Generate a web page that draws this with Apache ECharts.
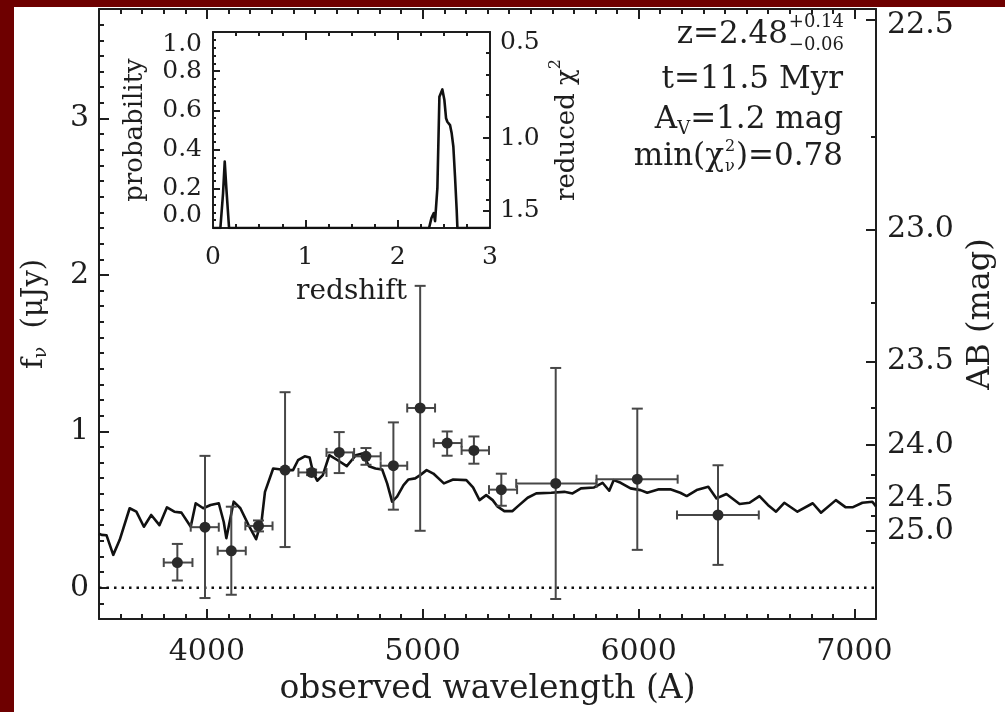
<!DOCTYPE html>
<html>
<head>
<meta charset="utf-8">
<script src="https://cdn.jsdelivr.net/npm/echarts@6/dist/echarts.min.js"></script>
<style>
  html, body { margin: 0; padding: 0; width: 1005px; height: 712px; overflow: hidden; background: #6e0000; }
  #paper { position: absolute; left: 14px; top: 7px; right: 0; bottom: 0; background: #ffffff; }
  #chart { position: absolute; left: 0; top: 0; width: 1005px; height: 712px; }
</style>
</head>
<body>
<div id="paper"></div>
<div id="chart"></div>
<script>
// ---- Broad-band photometry (wavelength in A, flux in microJy) ----
const obsWave   = [3863, 3991, 4113, 4239, 4362, 4485, 4613, 4737, 4864, 4988, 5113, 5237, 5364, 5616, 5994, 6368];
const obsFlux   = [0.161, 0.387, 0.236, 0.395, 0.752, 0.737, 0.865, 0.840, 0.780, 1.149, 0.925, 0.878, 0.627, 0.667, 0.694, 0.465];
const obsWaveLo = [3800, 3925, 4050, 4178, 4362, 4424, 4554, 4677, 4805, 4928, 5051, 5180, 5307, 5433, 5805, 6178];
const obsWaveHi = [3933, 4055, 4180, 4304, 4362, 4554, 4682, 4805, 4928, 5057, 5180, 5307, 5437, 5805, 6181, 6557];
const obsFluxLo = [0.046, -0.066, -0.045, 0.360, 0.260, 0.720, 0.733, 0.786, 0.499, 0.364, 0.844, 0.793, 0.524, -0.072, 0.242, 0.146];
const obsFluxHi = [0.280, 0.843, 0.518, 0.430, 1.250, 0.755, 0.995, 0.893, 1.057, 1.930, 0.999, 0.967, 0.729, 1.405, 1.145, 0.783];

// ---- Best-fit model spectrum ----
const modelWave = [3500, 3512, 3535, 3566, 3596, 3642, 3673, 3708, 3742, 3780, 3815, 3849, 3882, 3925, 3948, 3983,
  4017, 4055, 4078, 4090, 4124, 4155, 4193, 4228, 4254, 4269, 4307, 4345, 4376, 4399, 4422, 4453, 4476, 4491,
  4511, 4537, 4567, 4606, 4648, 4690, 4720, 4751, 4781, 4812, 4835, 4858, 4881, 4911, 4934, 4965, 4988, 5018,
  5049, 5098, 5141, 5202, 5233, 5263, 5294, 5324, 5347, 5378, 5416, 5440, 5486, 5526, 5595, 5656, 5694, 5733,
  5794, 5833, 5864, 5885, 5917, 5963, 6009, 6040, 6094, 6147, 6193, 6223, 6269, 6323, 6361, 6407, 6468, 6514,
  6560, 6599, 6637, 6675, 6736, 6807, 6845, 6914, 6960, 6991, 7037, 7083, 7100];
const modelFlux = [0.345, 0.338, 0.335, 0.210, 0.306, 0.508, 0.486, 0.390, 0.465, 0.400, 0.514, 0.486, 0.480, 0.390, 0.540, 0.508,
  0.529, 0.540, 0.420, 0.317, 0.550, 0.508, 0.400, 0.310, 0.433, 0.613, 0.762, 0.756, 0.752, 0.752, 0.815, 0.840, 0.832, 0.741,
  0.684, 0.720, 0.847, 0.815, 0.777, 0.847, 0.858, 0.777, 0.762, 0.756, 0.667, 0.550, 0.582, 0.656, 0.692, 0.699, 0.720, 0.752,
  0.730, 0.667, 0.692, 0.688, 0.641, 0.560, 0.592, 0.560, 0.518, 0.490, 0.490, 0.520, 0.575, 0.603, 0.607, 0.613, 0.603, 0.635,
  0.641, 0.671, 0.620, 0.688, 0.671, 0.635, 0.624, 0.607, 0.629, 0.629, 0.607, 0.586, 0.624, 0.645, 0.571, 0.599, 0.535, 0.543,
  0.586, 0.529, 0.486, 0.543, 0.486, 0.540, 0.480, 0.560, 0.514, 0.514, 0.543, 0.550, 0.520];

// ---- Photometric-redshift probability distribution ----
const zGrid = [0, 0.080, 0.109, 0.127, 0.145, 0.174, 2.340, 2.366, 2.391, 2.405, 2.430, 2.452, 2.484, 2.506,
  2.524, 2.538, 2.567, 2.585, 2.603, 2.621, 2.639, 2.647, 3.0];
const zProb = [0, 0, 0.178, 0.339, 0.200, 0, 0, 0.051, 0.076, 0.035, 0.203, 0.670, 0.707, 0.653,
  0.560, 0.542, 0.525, 0.483, 0.416, 0.263, 0.093, 0, 0];

// ---- Tick labels ----
const waveTicks = [4000, 5000, 6000, 7000];
const fluxTicks = [0, 1, 2, 3];
const abMajor = [22.5, 23.0, 23.5, 24.0, 24.5, 25.0];
const abMinor = [22.75, 23.25, 23.75, 24.25, 24.75, 25.25];
const zTicks = [0, 1, 2, 3];
const chi2Major = [0.5, 1.0, 1.5];
const chi2MajorProb = [1.0, 0.459, 0.088];
const chi2MinorProb = [0.892, 0.780, 0.678, 0.566, 0.347, 0.246, 0.144];

// AB magnitude <-> flux density in microJy
const abToFlux = m => Math.pow(10, (23.9 - m) / 2.5);
const fluxToAb = f => 23.9 - 2.5 * Math.log10(f);

const FONT = '"DejaVu Serif", "Liberation Serif", serif';
const INK = '#1e1e1e';
const AXLINE = { show: true, onZero: false, lineStyle: { color: INK, width: 2 } };
const NOLINE = { show: false, onZero: false };
const NOLABEL = { show: false };
const NOSPLIT = { show: false };
const tick = (len, extra) => Object.assign({ show: true, inside: true, length: len, lineStyle: { color: INK, width: 2 } }, extra || {});
const label = (size, margin, extra) => Object.assign({ color: INK, fontFamily: FONT, fontSize: size, margin: margin }, extra || {});
const plain = v => String(v);
// edge labels sit slightly inside the frame
const edgeRich = (size, pad) => ({ edge: { fontFamily: FONT, fontSize: size, color: INK, padding: [pad, 0, 0, 0] } });

const chart = echarts.init(document.getElementById('chart'), null, { renderer: 'canvas' });

function renderErrorBar(params, api) {
  const x = api.value(0), y = api.value(1);
  const c = api.coord([x, y]);
  const lo = api.coord([x, api.value(4)]);
  const hi = api.coord([x, api.value(5)]);
  const l = api.coord([api.value(2), y]);
  const r = api.coord([api.value(3), y]);
  const st = { stroke: '#474747', lineWidth: 2 };
  const capW = 5.5, capH = 4.5;
  const children = [];
  if (Math.abs(lo[1] - hi[1]) > 1) {
    children.push({ type: 'line', shape: { x1: c[0], y1: lo[1], x2: c[0], y2: hi[1] }, style: st });
    children.push({ type: 'line', shape: { x1: c[0] - capW, y1: lo[1], x2: c[0] + capW, y2: lo[1] }, style: st });
    children.push({ type: 'line', shape: { x1: c[0] - capW, y1: hi[1], x2: c[0] + capW, y2: hi[1] }, style: st });
  }
  if (r[0] - l[0] > 1) {
    children.push({ type: 'line', shape: { x1: l[0], y1: c[1], x2: r[0], y2: c[1] }, style: st });
    children.push({ type: 'line', shape: { x1: l[0], y1: c[1] - capH, x2: l[0], y2: c[1] + capH }, style: st });
    children.push({ type: 'line', shape: { x1: r[0], y1: c[1] - capH, x2: r[0], y2: c[1] + capH }, style: st });
  }
  children.push({ type: 'circle', shape: { cx: c[0], cy: c[1], r: 5.5 }, style: { fill: '#2a2a2a' } });
  return { type: 'group', children: children };
}

const option = {
  animation: false,
  backgroundColor: 'transparent',
  grid: [
    { left: 99, right: 124, top: 9, bottom: 93, containLabel: false },
    { left: 213, top: 32, width: 277, height: 196, containLabel: false }
  ],
  xAxis: [
    // main, bottom
    { gridIndex: 0, type: 'value', position: 'bottom', min: 3500, max: 7100,
      axisLine: AXLINE, splitLine: NOSPLIT,
      axisTick: tick(10, { customValues: waveTicks }),
      axisLabel: label(30, 18, { customValues: waveTicks, formatter: plain }),
      name: 'observed wavelength (A)', nameLocation: 'middle', nameGap: 54,
      nameTextStyle: { color: INK, fontFamily: FONT, fontSize: 33 } },
    { gridIndex: 0, type: 'value', position: 'bottom', min: 3500, max: 7100, interval: 100,
      axisLine: NOLINE, splitLine: NOSPLIT, axisLabel: NOLABEL, axisTick: tick(5) },
    // main, top
    { gridIndex: 0, type: 'value', position: 'top', min: 3500, max: 7100,
      axisLine: AXLINE, splitLine: NOSPLIT, axisLabel: NOLABEL,
      axisTick: tick(10, { customValues: waveTicks }) },
    { gridIndex: 0, type: 'value', position: 'top', min: 3500, max: 7100, interval: 100,
      axisLine: NOLINE, splitLine: NOSPLIT, axisLabel: NOLABEL, axisTick: tick(5) },
    // inset, bottom
    { gridIndex: 1, type: 'value', position: 'bottom', min: 0, max: 3,
      axisLine: AXLINE, splitLine: NOSPLIT,
      axisTick: tick(8, { customValues: zTicks }),
      axisLabel: label(25, 17, { customValues: zTicks, formatter: plain }),
      name: 'redshift', nameLocation: 'middle', nameGap: 50,
      nameTextStyle: { color: INK, fontFamily: FONT, fontSize: 28 } },
    { gridIndex: 1, type: 'value', position: 'bottom', min: 0, max: 3, interval: 0.25,
      axisLine: NOLINE, splitLine: NOSPLIT, axisLabel: NOLABEL, axisTick: tick(4) },
    // inset, top
    { gridIndex: 1, type: 'value', position: 'top', min: 0, max: 3,
      axisLine: AXLINE, splitLine: NOSPLIT, axisLabel: NOLABEL,
      axisTick: tick(8, { customValues: zTicks }) },
    { gridIndex: 1, type: 'value', position: 'top', min: 0, max: 3, interval: 0.25,
      axisLine: NOLINE, splitLine: NOSPLIT, axisLabel: NOLABEL, axisTick: tick(4) }
  ],
  yAxis: [
    // main, left (flux)
    { gridIndex: 0, type: 'value', position: 'left', min: -0.2, max: 3.7,
      axisLine: AXLINE, splitLine: NOSPLIT,
      axisTick: tick(10, { customValues: fluxTicks }),
      axisLabel: label(30, 10, { customValues: fluxTicks, formatter: plain }),
      name: '{a|f}{b|ν}{a|  (μJy)}', nameLocation: 'middle', nameGap: 48, nameRotate: 90,
      nameTextStyle: { color: INK, fontFamily: FONT, fontSize: 29,
        rich: { a: { fontFamily: FONT, fontSize: 29, color: INK, lineHeight: 34, verticalAlign: 'middle' },
                b: { fontFamily: FONT, fontSize: 19, color: INK, lineHeight: 34, verticalAlign: 'bottom' } } } },
    { gridIndex: 0, type: 'value', position: 'left', min: -0.2, max: 3.7, interval: 0.1,
      axisLine: NOLINE, splitLine: NOSPLIT, axisLabel: NOLABEL, axisTick: tick(5) },
    // main, right (AB magnitude)
    { gridIndex: 0, type: 'value', position: 'right', min: -0.2, max: 3.7,
      axisLine: AXLINE, splitLine: NOSPLIT,
      axisTick: tick(10, { customValues: abMajor.map(abToFlux) }),
      axisLabel: label(30, 11, { customValues: abMajor.map(abToFlux), rich: edgeRich(30, 10),
        formatter: v => {
          const m = fluxToAb(v);
          return Math.abs(m - abMajor[0]) < 1e-6 ? '{edge|' + m.toFixed(1) + '}' : m.toFixed(1);
        } }),
      name: 'AB (mag)', nameLocation: 'middle', nameGap: 89, nameRotate: 90,
      nameTextStyle: { color: INK, fontFamily: FONT, fontSize: 32 } },
    { gridIndex: 0, type: 'value', position: 'right', min: -0.2, max: 3.7,
      axisLine: NOLINE, splitLine: NOSPLIT, axisLabel: NOLABEL,
      axisTick: tick(5, { customValues: abMinor.map(abToFlux) }) },
    // inset, left (probability)
    { gridIndex: 1, type: 'value', position: 'left', min: 0, max: 1, interval: 0.2,
      axisLine: AXLINE, splitLine: NOSPLIT,
      axisTick: tick(7),
      axisLabel: label(25, 11, { formatter: v => v.toFixed(1), verticalAlignMinLabel: 'bottom', verticalAlignMaxLabel: 'top' }),
      name: 'probability', nameLocation: 'middle', nameGap: 65, nameRotate: 90,
      nameTextStyle: { color: INK, fontFamily: FONT, fontSize: 26 } },
    { gridIndex: 1, type: 'value', position: 'left', min: 0, max: 1, interval: 0.04,
      axisLine: NOLINE, splitLine: NOSPLIT, axisLabel: NOLABEL, axisTick: tick(3) },
    // inset, right (reduced chi-square)
    { gridIndex: 1, type: 'value', position: 'right', min: 0, max: 1,
      axisLine: AXLINE, splitLine: NOSPLIT,
      axisTick: tick(7, { customValues: chi2MajorProb }),
      axisLabel: label(25, 10, { customValues: chi2MajorProb, rich: edgeRich(25, 20),
        formatter: v => {
          let best = 0;
          chi2MajorProb.forEach((p, i) => { if (Math.abs(p - v) < Math.abs(chi2MajorProb[best] - v)) best = i; });
          const txt = chi2Major[best].toFixed(1);
          return best === 0 ? '{edge|' + txt + '}' : txt;
        } }),
      name: '{t|reduced χ}{s|2}', nameLocation: 'middle', nameGap: 58, nameRotate: 90,
      nameTextStyle: { color: INK, fontFamily: FONT, fontSize: 26,
        rich: { t: { fontFamily: FONT, fontSize: 26, color: INK, lineHeight: 32, verticalAlign: 'bottom' },
                s: { fontFamily: FONT, fontSize: 16, color: INK, lineHeight: 32, verticalAlign: 'top' } } } },
    { gridIndex: 1, type: 'value', position: 'right', min: 0, max: 1,
      axisLine: NOLINE, splitLine: NOSPLIT, axisLabel: NOLABEL,
      axisTick: tick(4, { customValues: chi2MinorProb }) }
  ],
  series: [
    { name: 'zero', type: 'line', xAxisIndex: 0, yAxisIndex: 0, silent: true, symbol: 'none', z: 1,
      data: [[3500, 0], [7100, 0]],
      lineStyle: { color: '#111', width: 2.5, type: [2.5, 5] } },
    { name: 'model', type: 'line', xAxisIndex: 0, yAxisIndex: 0, symbol: 'none', z: 2,
      data: modelWave.map((w, i) => [w, modelFlux[i]]),
      lineStyle: { color: '#111', width: 2.6, join: 'round' } },
    { name: 'photometry', type: 'custom', xAxisIndex: 0, yAxisIndex: 0, z: 3,
      renderItem: renderErrorBar,
      encode: { x: [0, 2, 3], y: [1, 4, 5] },
      data: obsWave.map((w, i) => [w, obsFlux[i], obsWaveLo[i], obsWaveHi[i], obsFluxLo[i], obsFluxHi[i]]) },
    { name: 'P(z)', type: 'line', xAxisIndex: 4, yAxisIndex: 4, symbol: 'none', z: 2,
      data: zGrid.map((z, i) => [z, zProb[i]]),
      lineStyle: { color: '#111', width: 2.6, join: 'round' } }
  ],
  graphic: [
    { type: 'text', x: 788, y: 35, style: { text: 'z=2.48', align: 'right', verticalAlign: 'middle', font: '31px ' + FONT, fill: INK } },
    { type: 'text', x: 844, y: 22, style: { text: '+0.14', align: 'right', verticalAlign: 'middle', font: '18px ' + FONT, fill: INK } },
    { type: 'text', x: 844, y: 45, style: { text: '−0.06', align: 'right', verticalAlign: 'middle', font: '18px ' + FONT, fill: INK } },
    { type: 'text', x: 843, y: 80, style: { text: 't=11.5 Myr', align: 'right', verticalAlign: 'middle', font: '31px ' + FONT, fill: INK } },
    { type: 'text', x: 843, y: 120, style: { text: '{m|A}{s|V}{m|=1.2 mag}', align: 'right', verticalAlign: 'middle', fill: INK,
        rich: { m: { fontFamily: FONT, fontSize: 31, fill: INK, lineHeight: 36, verticalAlign: 'middle' },
                s: { fontFamily: FONT, fontSize: 18, fill: INK, lineHeight: 36, verticalAlign: 'bottom' } } } },
    { type: 'text', x: 724, y: 157, style: { text: 'min(χ', align: 'right', verticalAlign: 'middle', font: '31px ' + FONT, fill: INK } },
    { type: 'text', x: 725, y: 147, style: { text: '2', align: 'left', verticalAlign: 'middle', font: '16px ' + FONT, fill: INK } },
    { type: 'text', x: 725, y: 167, style: { text: 'ν', align: 'left', verticalAlign: 'middle', font: '16px ' + FONT, fill: INK } },
    { type: 'text', x: 843, y: 157, style: { text: ')=0.78', align: 'right', verticalAlign: 'middle', font: '31px ' + FONT, fill: INK } }
  ]
};

chart.setOption(option);
</script>
</body>
</html>
